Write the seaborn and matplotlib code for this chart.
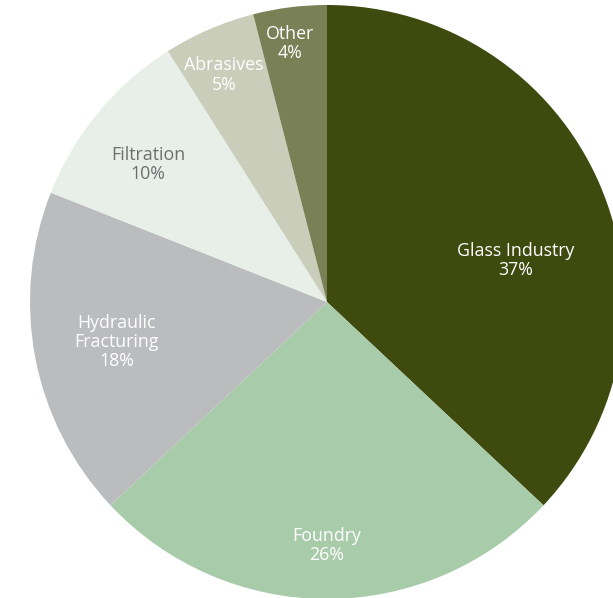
import matplotlib
matplotlib.use("Agg")
import matplotlib.pyplot as plt
import seaborn as sns
import numpy as np

categories = ["Glass Industry", "Foundry", "Hydraulic\nFracturing", "Filtration", "Abrasives", "Other"]
shares = [37, 26, 18, 10, 5, 4]
colors = ["#3e4a0e", "#a8cbaa", "#bbbcbe", "#e8efe8", "#c9cdb9", "#7a8055"]
text_colors = ["white", "white", "white", "#6d6e70", "white", "white"]

sns.set_theme(style="white")
plt.rcParams['font.family'] = ['Open Sans', 'DejaVu Sans']

fig = plt.figure(figsize=(6.13, 5.98), dpi=100)
ax = fig.add_axes([0, 0, 1, 1])
palette = sns.color_palette(colors)
wedges, _ = ax.pie(shares, colors=palette, startangle=90, counterclock=False,
                   radius=1.0, wedgeprops=dict(linewidth=0))

label_r = [0.65, 0.82, 0.72, 0.76, 0.84, 0.88]
angle_shift = [-11, 0, 0, 2, 1, 1]
for w, cat, val, r, sh, tc in zip(wedges, categories, shares, label_r, angle_shift, text_colors):
    ang = np.deg2rad((w.theta1 + w.theta2) / 2 + sh)
    ax.text(r * np.cos(ang), r * np.sin(ang), f"{cat}\n{val}%", ha="center", va="center",
            color=tc, fontsize=12.8, linespacing=1.1)

ax.set_xlim(-327 / 297, (613 - 327) / 297)
ax.set_ylim(-(598 - 302) / 297, 302 / 297)
ax.set_aspect('auto')
ax.axis('off')
fig.savefig("out.png", dpi=100, facecolor="white")
